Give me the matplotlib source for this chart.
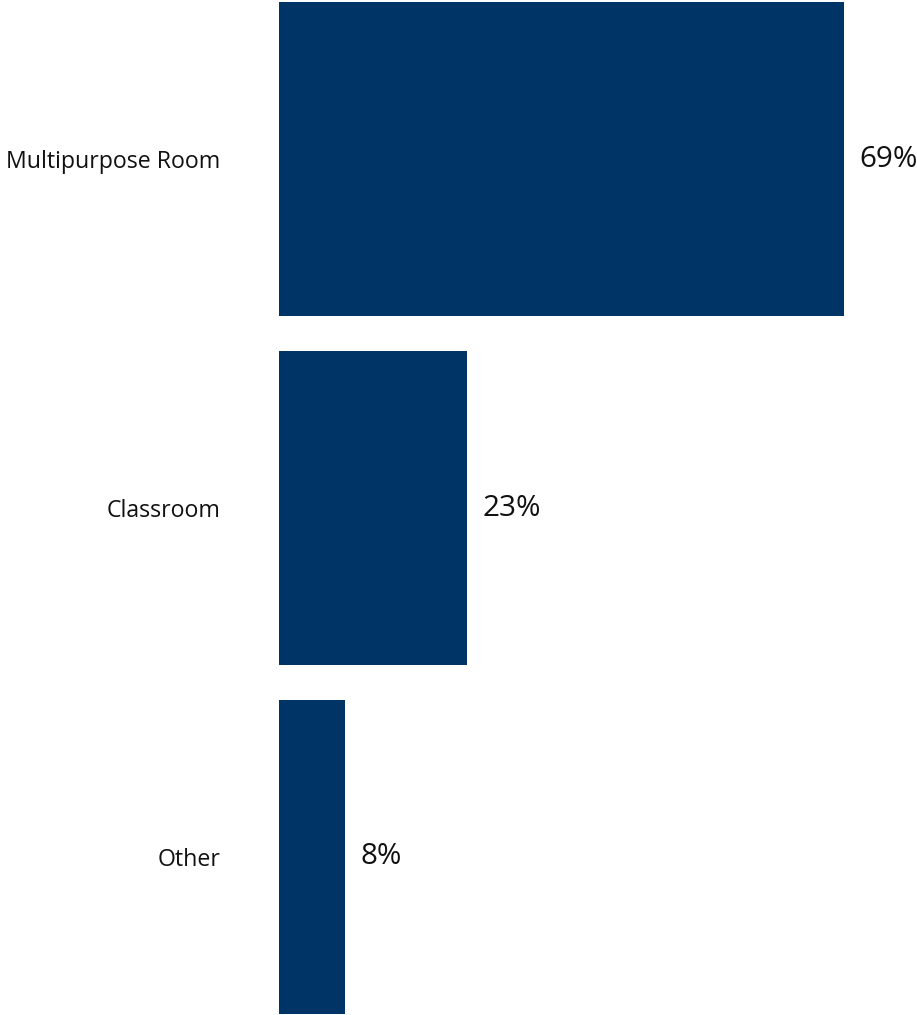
import matplotlib.pyplot as plt

# room usage shares
categories = ["Multipurpose Room", "Classroom", "Other"]
shares = [69, 23, 8]

plt.rcParams['font.family'] = ['Open Sans', 'DejaVu Sans']

fig = plt.figure(figsize=(9.17, 10.15), dpi=100)
# axes start where the bars begin
ax = fig.add_axes([279 / 917, 1 / 1015, 638 / 917, 1012 / 1015])

ypos = list(range(len(categories)))
ax.barh(ypos, shares, height=0.9, color="#003366")

for y, v in zip(ypos, shares):
    ax.text(v + 1.9, y, f"{v}%", va="center", ha="left", fontsize=21.3, color="#111111")

ax.set_yticks(ypos)
ax.set_yticklabels(categories, fontsize=16.7, color="#111111")
ax.tick_params(axis="y", length=0, pad=42)
ax.set_xticks([])
ax.set_xlim(0, 77.9)
ax.set_ylim(2.45, -0.45)
for s in ax.spines.values():
    s.set_visible(False)

fig.savefig("out.png", dpi=100)
